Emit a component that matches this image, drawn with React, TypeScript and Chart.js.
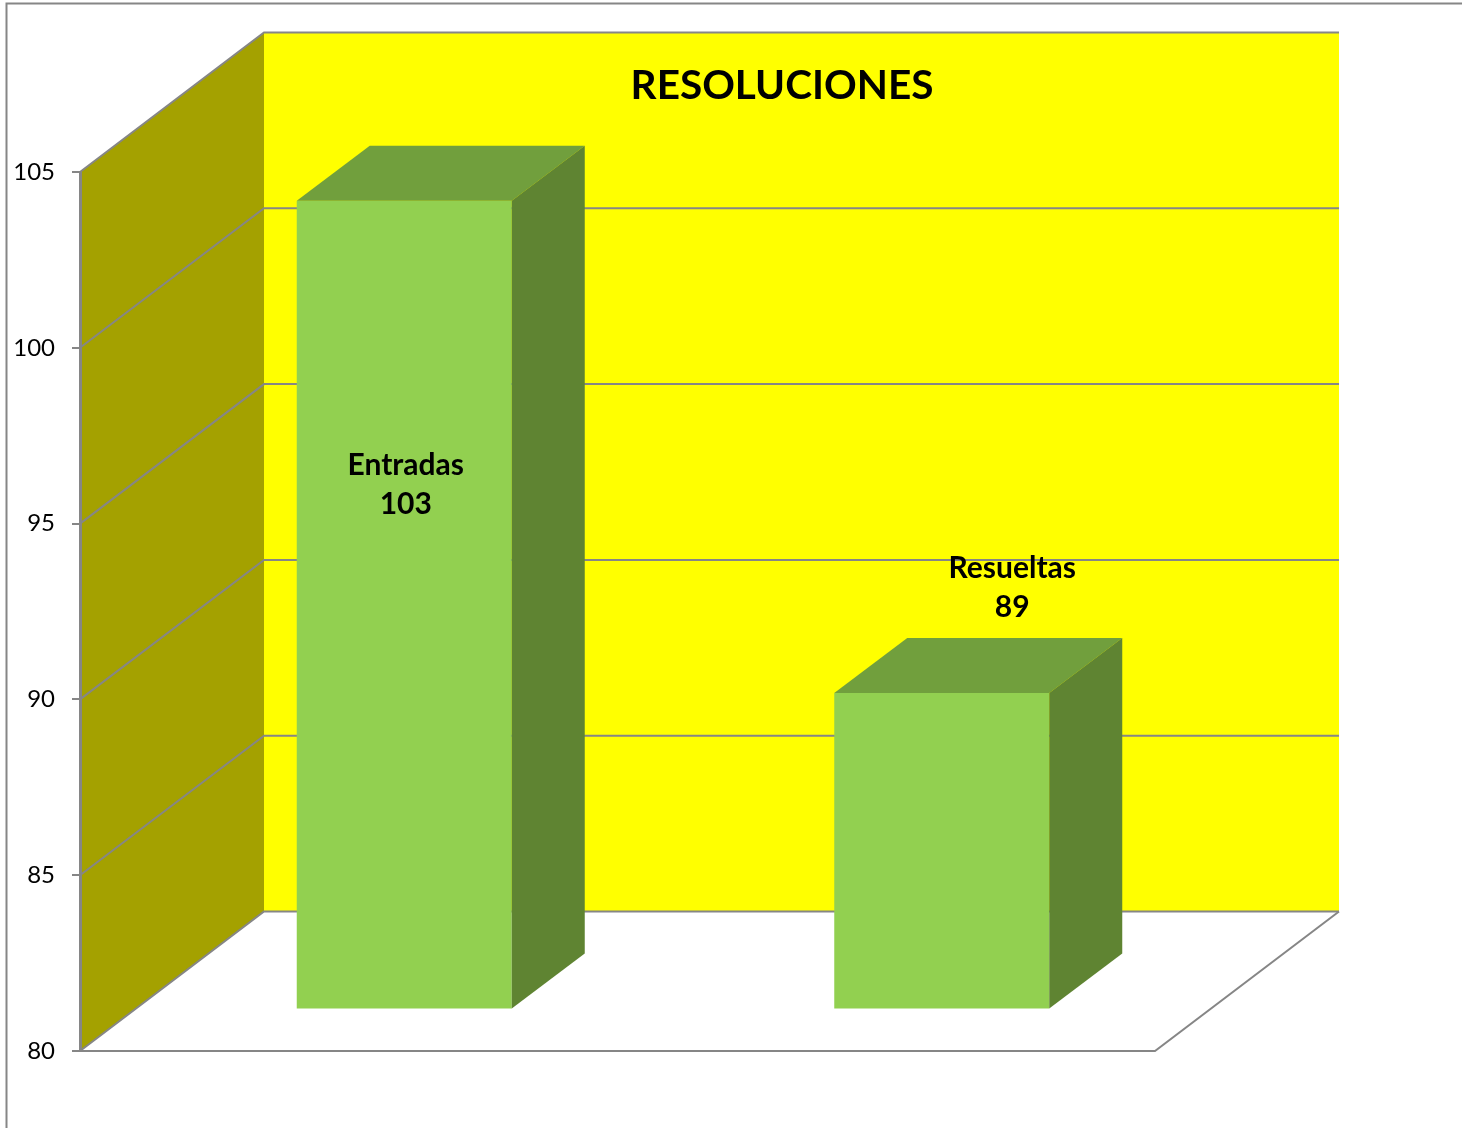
import React, { useEffect, useRef } from "react";
import { Chart, registerables } from "chart.js";

Chart.register(...registerables);

const categories = ["Entradas", "Resueltas"];
const values = [103, 89];
const titleText = "RESOLUCIONES";
const axisMin = 80;
const axisMax = 105;
const axisStep = 5;

const FONT = "Lato, 'Noto Sans', sans-serif";
const GRID = "#868686";
const WALL_BACK = "#FFFF00";
const WALL_SIDE = "#A4A100";
const FACE_FRONT = "#92D050";
const FACE_TOP = "#719F3D";
const FACE_SIDE = "#5F8432";

const DEPTH_X = 184;
const DEPTH_Y = 139.5;
const BAR_SHIFT_X = 55.5;
const BAR_SHIFT_Y = 41.5;
const BAR_DEPTH_X = 73;
const BAR_DEPTH_Y = 55;
const LABEL_OFFSETS = [
  { dx: 57, dy: 223 },
  { dx: 126, dy: -166.5 },
];

const poly = (ctx: CanvasRenderingContext2D, pts: number[][], fill: string) => {
  ctx.beginPath();
  pts.forEach(([x, y], i) => (i ? ctx.lineTo(x, y) : ctx.moveTo(x, y)));
  ctx.closePath();
  ctx.fillStyle = fill;
  ctx.fill();
};

const line = (ctx: CanvasRenderingContext2D, pts: number[][]) => {
  ctx.beginPath();
  pts.forEach(([x, y], i) => (i ? ctx.lineTo(x, y) : ctx.moveTo(x, y)));
  ctx.stroke();
};

const box3d = {
  id: "box3d",
  beforeDraw(chart: any) {
    const { ctx, chartArea: a, scales, width, height } = chart;
    const y = scales.y;
    const top = y.getPixelForValue(axisMax);
    const bottom = y.getPixelForValue(axisMin);
    const L = a.left;
    const R = a.right;
    ctx.save();
    ctx.fillStyle = "#FFFFFF";
    ctx.fillRect(0, 0, width, height);

    ctx.strokeStyle = GRID;
    ctx.lineWidth = 2;
    line(ctx, [[6.5, height], [6.5, 3.5], [width, 3.5]]);

    poly(ctx, [[L + DEPTH_X, top - DEPTH_Y], [R + DEPTH_X, top - DEPTH_Y], [R + DEPTH_X, bottom - DEPTH_Y], [L + DEPTH_X, bottom - DEPTH_Y]], WALL_BACK);
    poly(ctx, [[L, top], [L + DEPTH_X, top - DEPTH_Y], [L + DEPTH_X, bottom - DEPTH_Y], [L, bottom]], WALL_SIDE);

    for (const t of y.ticks) {
      const py = y.getPixelForValue(t.value);
      line(ctx, [[L, py], [L + DEPTH_X, py - DEPTH_Y], [R + DEPTH_X, py - DEPTH_Y]]);
    }
    line(ctx, [[L, bottom], [R, bottom], [R + DEPTH_X, bottom - DEPTH_Y]]);
    ctx.restore();
  },
  beforeDatasetsDraw(chart: any) {
    chart.ctx.save();
    chart.ctx.translate(BAR_SHIFT_X, -BAR_SHIFT_Y);
  },
  afterDatasetsDraw(chart: any) {
    const { ctx } = chart;
    ctx.restore();
    const bars = chart.getDatasetMeta(0).data;
    for (const b of bars) {
      const x0 = b.x - b.width / 2 + BAR_SHIFT_X;
      const x1 = b.x + b.width / 2 + BAR_SHIFT_X;
      const yT = b.y - BAR_SHIFT_Y;
      const yB = b.base - BAR_SHIFT_Y;
      poly(ctx, [[x0, yT], [x0 + BAR_DEPTH_X, yT - BAR_DEPTH_Y], [x1 + BAR_DEPTH_X, yT - BAR_DEPTH_Y], [x1, yT]], FACE_TOP);
      poly(ctx, [[x1, yT], [x1 + BAR_DEPTH_X, yT - BAR_DEPTH_Y], [x1 + BAR_DEPTH_X, yB - BAR_DEPTH_Y], [x1, yB]], FACE_SIDE);
    }
  },
  afterDraw(chart: any) {
    const { ctx } = chart;
    const bars = chart.getDatasetMeta(0).data;
    ctx.save();
    ctx.fillStyle = "#000000";
    ctx.textAlign = "center";
    ctx.textBaseline = "middle";
    ctx.font = `bold 30px ${FONT}`;
    bars.forEach((b: any, i: number) => {
      const o = LABEL_OFFSETS[i];
      ctx.fillText(categories[i], b.x + o.dx, b.y + o.dy);
      ctx.fillText(String(values[i]), b.x + o.dx, b.y + o.dy + 39);
    });
    ctx.font = `bold 40.5px ${FONT}`;
    ctx.fillText(titleText, 782, 86);
    ctx.restore();
  },
};

export default function App() {
  const ref = useRef<HTMLCanvasElement | null>(null);
  useEffect(() => {
    if (!ref.current) return;
    const chart = new Chart(ref.current, {
      type: "bar",
      data: {
        labels: categories,
        datasets: [
          {
            data: values,
            base: axisMin,
            backgroundColor: FACE_FRONT,
            borderWidth: 0,
            barPercentage: 0.4,
            categoryPercentage: 1,
            clip: false as any,
          },
        ],
      },
      options: {
        animation: false,
        responsive: false,
        devicePixelRatio: 1,
        layout: { padding: { top: 172, bottom: 77, right: 307, left: 0 } },
        plugins: { legend: { display: false }, title: { display: false }, tooltip: { enabled: false } },
        scales: {
          x: { display: false },
          y: {
            min: axisMin,
            max: axisMax,
            afterFit(scale: any) {
              scale.width = 80;
            },
            ticks: {
              stepSize: axisStep,
              color: "#000000",
              font: { family: FONT, size: 24 },
              padding: 17,
            },
            grid: { drawOnChartArea: false, color: GRID, lineWidth: 2, tickLength: 8 },
            border: { color: GRID, width: 3 },
          },
        },
      },
      plugins: [box3d],
    });
    return () => chart.destroy();
  }, []);
  return (
    <canvas
      ref={ref}
      width={1462}
      height={1128}
      style={{ position: "absolute", left: 0, top: 0, width: 1462, height: 1128, display: "block" }}
    />
  );
}
